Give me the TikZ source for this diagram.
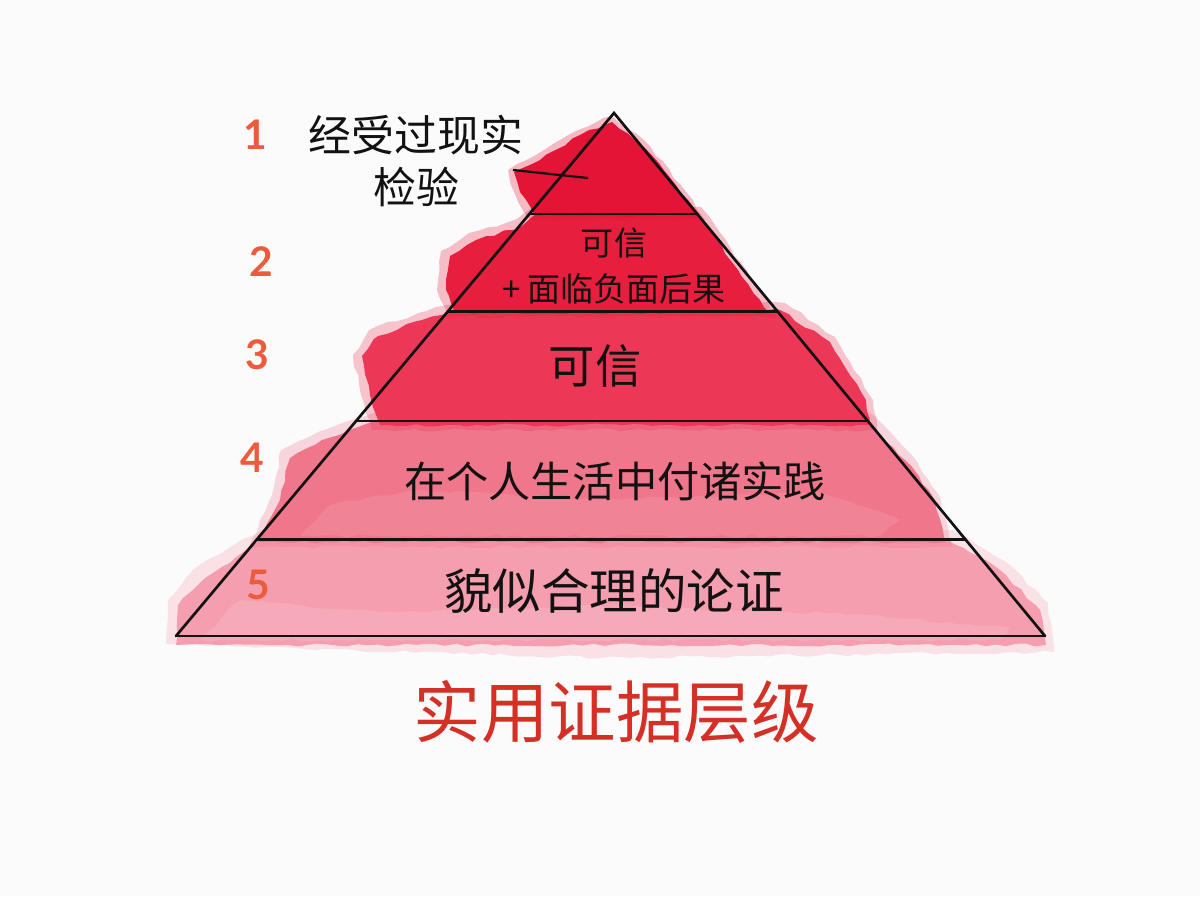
\documentclass[tikz,border=0pt]{standalone}
\usepackage{fontspec}
\usepackage{tikz}
\usetikzlibrary{positioning, calc, decorations.pathmorphing}
\newfontfamily\cjk{Noto Sans CJK SC}
\newfontfamily\numfont{Lato}
\definecolor{paper}{RGB}{251,251,251}
\definecolor{ink}{RGB}{18,18,18}
\definecolor{numc}{RGB}{236,92,60}
\definecolor{titlec}{RGB}{212,48,38}
\definecolor{ta}{RGB}{228,20,54}
\definecolor{tb}{RGB}{231,30,62}
\definecolor{tc}{RGB}{236,56,86}
\definecolor{td}{RGB}{240,118,140}
\definecolor{te}{RGB}{245,158,175}
\tikzset{
  wash/.style={decorate,decoration={random steps,segment length=7pt,amplitude=1.1pt}},
  halo/.style={wash,opacity=.28},
  edge/.style={draw=ink,line width=1.9pt,line cap=round},
  num/.style={font=\numfont\bfseries\fontsize{29}{30}\selectfont,text=numc},
  lbl/.style={text=ink,align=center},
}
\pgfmathsetseed{11}

\begin{document}
\begin{tikzpicture}[x=0.025cm,y=-0.025cm]
  \fill[paper] (0,0) rectangle (1200,896);
  \useasboundingbox (0,0) rectangle (1200,896);

  % watercolour washes, bottom tier first
  \fill[te,halo] (166,644) -- (168,600) -- (193,570) -- (226,550) -- (262,530)
    -- (952,530) -- (1007,563) -- (1048,603) -- (1054,652) -- (600,658) -- cycle;
  \fill[te,wash] (176,645) -- (178,605) -- (205,578) -- (235,558) -- (262,538)
    -- (945,538) -- (1000,570) -- (1040,610) -- (1046,645) -- cycle;
  \fill[td,halo] (249,547) -- (272,495) -- (281,450) -- (318,432) -- (376,412)
    -- (869,412) -- (911,454) -- (941,500) -- (953,547) -- cycle;
  \fill[td,wash] (258,542) -- (280,500) -- (290,458) -- (322,440) -- (380,420)
    -- (864,420) -- (905,460) -- (935,500) -- (945,542) -- cycle;
  \fill[tc,halo] (372,430) -- (361,395) -- (353,355) -- (369,330) -- (418,313)
    -- (458,303) -- (785,303) -- (835,337) -- (873,400) -- (877,430) -- cycle;
  \fill[tc,wash] (380,425) -- (370,395) -- (362,356) -- (378,336) -- (422,320)
    -- (460,310) -- (780,310) -- (830,342) -- (866,400) -- (870,425) -- cycle;
  \fill[tb,halo] (447,317) -- (437,290) -- (441,251) -- (469,233) -- (517,219)
    -- (534,207) -- (701,207) -- (767,300) -- (777,317) -- cycle;
  \fill[tb,wash] (455,313) -- (446,290) -- (450,256) -- (476,240) -- (522,226)
    -- (537,213) -- (697,213) -- (760,300) -- (770,313) -- cycle;
  \fill[ta,halo] (530,220) -- (514,192) -- (508,170) -- (536,155) -- (578,130)
    -- (612,116) -- (650,146) -- (693,200) -- (705,220) -- cycle;
  \fill[ta,wash] (535,216) -- (520,192) -- (514,172) -- (540,160) -- (580,135)
    -- (612,122) -- (645,148) -- (688,200) -- (700,216) -- cycle;
  % lighter patches in the wash
  \fill[white,wash,opacity=.1] (330,505) -- (420,490) -- (600,500) -- (820,492)
    -- (900,520) -- (880,536) -- (300,536) -- cycle;
  \fill[white,wash,opacity=.12] (240,600) -- (380,612) -- (600,606) -- (860,614)
    -- (1010,628) -- (1000,640) -- (200,640) -- cycle;

  % pyramid
  \coordinate (apex) at (614,113);
  \coordinate (bl) at (176,636);
  \coordinate (br) at (1045,636);
  \draw[edge] (bl) -- (apex) -- (br);
  \draw[edge] (bl) -- (br);
  \foreach \t in {0.193,0.379,0.589,0.816}
    \draw[edge] ($(apex)!\t!(bl)$) -- ($(apex)!\t!(br)$);

  % level numbers
  \node[num] (n1) at (255,135) {1};
  \node[num] (n2) at (261,262) {2};
  \node[num] (n3) at (257,355) {3};
  \node[num] (n4) at (252,458) {4};
  \node[num] (n5) at (258,585) {5};

  % tier texts
  \node[lbl,font=\cjk\fontsize{30.5}{37.5}\selectfont] (top) at (416,161)
    {经受过现实\\检验};
  \coordinate (leadA) at (513,170);
  \coordinate (leadB) at (588,178);
  \draw[ink,line width=1.6pt] (leadA) -- (leadB);
  \node[lbl,font=\cjk\fontsize{23.5}{33}\selectfont] (lv2) at (614,266)
    {可信\\+ 面临负面后果};
  \node[lbl,font=\cjk\fontsize{33}{36}\selectfont] (lv3) at (595,366) {可信};
  \node[lbl,font=\cjk\fontsize{30}{36}\selectfont] (lv4) at (615,481)
    {在个人生活中付诸实践};
  \node[lbl,font=\cjk\fontsize{34.5}{38}\selectfont] (lv5) at (614,591)
    {貌似合理的论证};

  \node[font=\cjk\fontsize{48}{52}\selectfont,text=titlec] (title) at (616,712)
    {实用证据层级};
\end{tikzpicture}
\end{document}
